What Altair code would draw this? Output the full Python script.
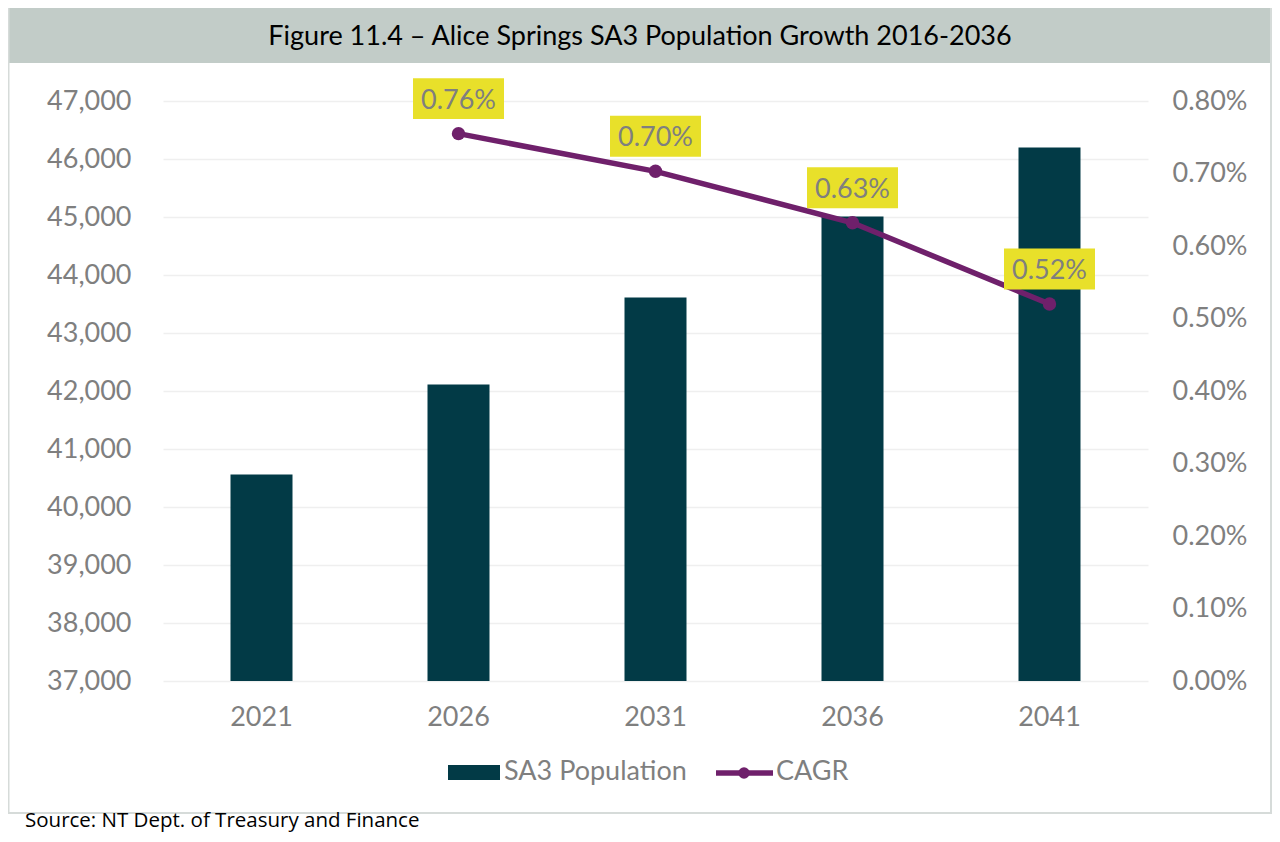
import altair as alt
import pandas as pd

# ---- data ----
years = ["2021", "2026", "2031", "2036", "2041"]
population = [40560, 42110, 43610, 45010, 46200]
cagr_years = ["2026", "2031", "2036", "2041"]
cagr = [0.00755, 0.00703, 0.00632, 0.00520]
cagr_labels = ["0.76%", "0.70%", "0.63%", "0.52%"]
left_ticks = [37000, 38000, 39000, 40000, 41000, 42000, 43000, 44000, 45000, 46000, 47000]
right_ticks = [0, 0.001, 0.002, 0.003, 0.004, 0.005, 0.006, 0.007, 0.008]
title_text = "Figure 11.4 \u2013 Alice Springs SA3 Population Growth 2016-2036"
source_text = "Source: NT Dept. of Treasury and Finance"
legend_bar_label = "SA3 Population"
legend_line_label = "CAGR"

TEAL = "#023A46"
PURPLE = "#6F206B"
YELLOW = "#E8E02A"
GREY_TXT = "#7F7F7F"
BAR_BG = "#C2CCC8"
BORDER = "#D6DBD9"

pop_df = pd.DataFrame({"year": years, "pop": population})
cagr_df = pd.DataFrame({"year": cagr_years, "cagr": cagr, "label": cagr_labels})
one = pd.DataFrame({"k": [0]})

W, H = 985, 580
PL, PT, PR, PB = 155, 93, 124, 153
FS = 27

xenc = alt.X("year:N", sort=years, title=None,
             scale=alt.Scale(paddingInner=0, paddingOuter=0),
             axis=alt.Axis(labelAngle=0, labelFontSize=FS, labelColor=GREY_TXT,
                           labelFont="Lato", ticks=False, domain=False, labelPadding=23))

bars = alt.Chart(pop_df).mark_bar(size=62, color=TEAL, clip=True).encode(
    x=xenc,
    y=alt.Y("pop:Q", title=None,
            scale=alt.Scale(domain=[37000, 47000], nice=False, zero=False),
            axis=alt.Axis(values=left_ticks, format=",.0f", labelFontSize=FS,
                          labelColor=GREY_TXT, labelFont="Lato", ticks=False,
                          domain=False, grid=True, gridColor="#EFEFEF",
                          gridWidth=1.5, labelPadding=32, orient="left")),
)

yr = alt.Y("cagr:Q", title=None,
           scale=alt.Scale(domain=[0, 0.008], nice=False, zero=True),
           axis=alt.Axis(values=right_ticks, format=".2%", labelFontSize=FS,
                         labelColor=GREY_TXT, labelFont="Lato", ticks=False,
                         domain=False, grid=False, labelPadding=24, orient="right"))

line = alt.Chart(cagr_df).mark_line(color=PURPLE, strokeWidth=5.5).encode(
    x=alt.X("year:N", sort=years), y=yr)
pts = alt.Chart(cagr_df).mark_point(filled=True, opacity=1, color=PURPLE, size=180).encode(
    x=alt.X("year:N", sort=years), y=alt.Y("cagr:Q"))
boxes = alt.Chart(cagr_df).mark_point(
    filled=True, opacity=1, color=YELLOW, size=8281,
    shape="M-1,-0.45H1V0.45H-1Z", yOffset=-35).encode(
    x=alt.X("year:N", sort=years), y=alt.Y("cagr:Q"))
labels = alt.Chart(cagr_df).mark_text(
    fontSize=FS, font="Lato", color=GREY_TXT, baseline="alphabetic", dy=-25).encode(
    x=alt.X("year:N", sort=years), y=alt.Y("cagr:Q"), text="label:N")

right = alt.layer(line, boxes, pts, labels)

# ---- frame / title / legend / source ----
total_w = PL + W + PR
title_bar = alt.Chart(one).mark_rect(color=BAR_BG).encode(
    x=alt.value(-PL), x2=alt.value(total_w - PL), y=alt.value(-PT), y2=alt.value(-38))
border_l = alt.Chart(one).mark_rule(color=BORDER, strokeWidth=2).encode(
    x=alt.value(-PL + 0.5), y=alt.value(-PT), y2=alt.value(712))
border_r = alt.Chart(one).mark_rule(color=BORDER, strokeWidth=2).encode(
    x=alt.value(total_w - PL - 1), y=alt.value(-PT), y2=alt.value(712))
border_b = alt.Chart(one).mark_rule(color=BORDER, strokeWidth=2).encode(
    x=alt.value(-PL), x2=alt.value(total_w - PL), y=alt.value(712))
title = alt.Chart(one).mark_text(fontSize=FS, font="Lato", color="#000000",
                                 baseline="alphabetic", align="center").encode(
    x=alt.value(total_w / 2 - PL), y=alt.value(-56), text=alt.value(title_text))

leg_rect = alt.Chart(one).mark_rule(color=TEAL, strokeWidth=15, strokeCap="butt").encode(
    x=alt.value(285), x2=alt.value(337), y=alt.value(671.5))
leg_txt1 = alt.Chart(one).mark_text(fontSize=FS, font="Lato", color=GREY_TXT,
                                    align="left", baseline="middle").encode(
    x=alt.value(341), y=alt.value(671), text=alt.value(legend_bar_label))
leg_line = alt.Chart(one).mark_rule(color=PURPLE, strokeWidth=5.5).encode(
    x=alt.value(553), x2=alt.value(610), y=alt.value(672))
leg_pt = alt.Chart(one).mark_point(filled=True, opacity=1, color=PURPLE, size=130).encode(
    x=alt.value(581), y=alt.value(672))
leg_txt2 = alt.Chart(one).mark_text(fontSize=FS, font="Lato", color=GREY_TXT,
                                    align="left", baseline="middle").encode(
    x=alt.value(613), y=alt.value(671), text=alt.value(legend_line_label))
source = alt.Chart(one).mark_text(fontSize=20.5, font="Open Sans", color="#000000",
                                  align="left", baseline="alphabetic").encode(
    x=alt.value(-138), y=alt.value(726), text=alt.value(source_text))

chart = alt.layer(
    title_bar, border_l, border_r, border_b, title,
    bars, right,
    leg_rect, leg_txt1, leg_line, leg_pt, leg_txt2, source,
).resolve_scale(y="independent").properties(
    width=W, height=H,
    padding={"left": PL, "top": PT, "right": PR, "bottom": PB},
    autosize=alt.AutoSizeParams(type="none"),
    background="white",
).configure_view(stroke=None)

chart.save("out.html", embed_options={"renderer": "svg", "actions": False})
